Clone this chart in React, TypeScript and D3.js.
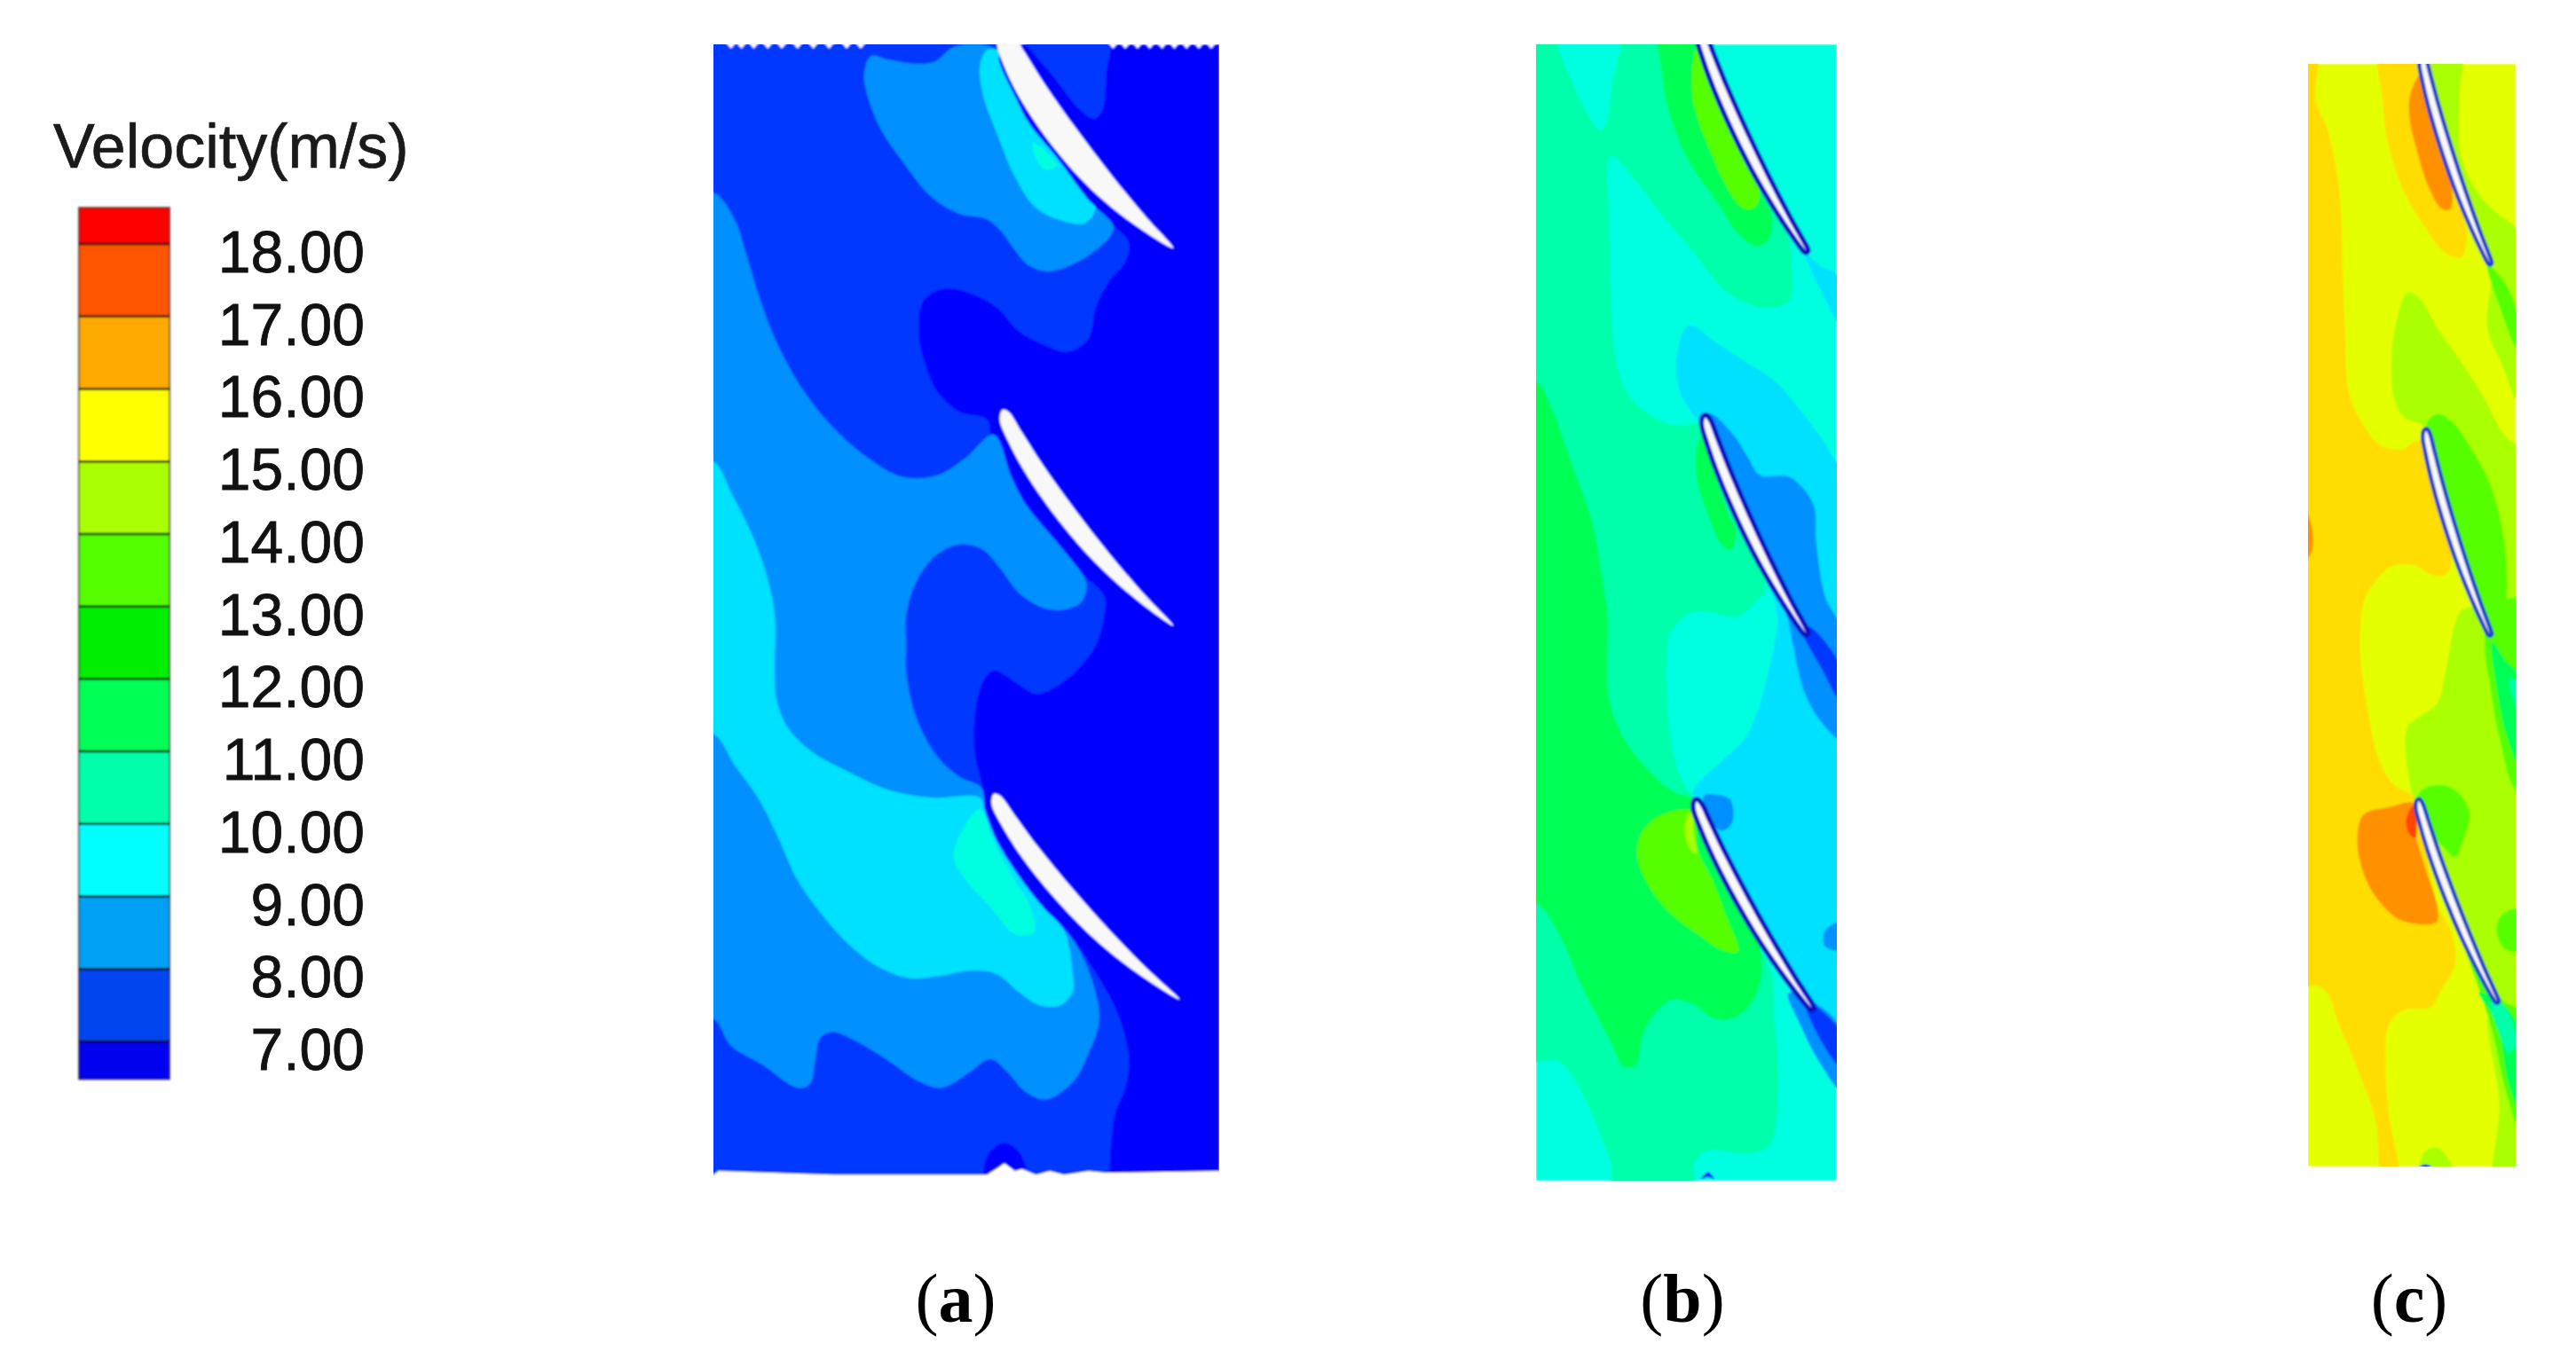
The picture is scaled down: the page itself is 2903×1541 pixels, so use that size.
import React from 'react';
import * as d3 from 'd3';

type Pt = [number, number];

const legendTitle = 'Velocity(m/s)';
const legendValues = [18, 17, 16, 15, 14, 13, 12, 11, 10, 9, 8, 7];
const legendColors = ['#0000ee', '#0044f0', '#00a0f5', '#00ffff', '#00ffaa', '#00ff55', '#00ee00', '#55ff00', '#aaff00', '#ffff00', '#ffaa00', '#ff5500', '#ff0000'];
const bandColors = ['#0000ff', '#0038ff', '#0090ff', '#00e0ff', '#00ffe0', '#00ffaa', '#00ff55', '#55ff00', '#aaff00', '#e4ff00', '#ffdd00', '#ff9000', '#ff4400'];

// blade section: chord fraction, then offset from the chord on each surface
const profileT = [0, 0.02, 0.1, 0.25, 0.45, 0.65, 0.85, 1];
const profileUpper = [0, -0.012, -0.005, 0.01, 0.019, 0.02, 0.012, 0];
const profileLower = [0, 0.03, 0.055, 0.08, 0.09, 0.08, 0.045, 0];

// panel (a): outlines
const aMid: Pt[] = [[-50, -50], [870, -50], [875, 90], [920, 180], [960, 250], [1040, 340], [1130, 450], [1200, 515], [1245, 560], [1235, 610], [1190, 660], [1150, 730], [1130, 810], [1070, 845], [1000, 825], [930, 790], [870, 730], [800, 695], [720, 680], [660, 710], [645, 790], [665, 880], [700, 950], [760, 1000], [840, 1020], [850, 1060], [860, 1095], [910, 1170], [950, 1240], [1040, 1340], [1110, 1420], [1175, 1480], [1175, 1529], [1150, 1609], [1100, 1669], [1040, 1714], [980, 1734], [930, 1709], [860, 1674], [825, 1709], [805, 1799], [805, 1889], [825, 1969], [830, 2039], [870, 2119], [940, 2219], [1000, 2289], [1090, 2379], [1150, 2459], [1210, 2559], [1245, 2679], [1235, 2759], [1205, 2829], [1190, 2979], [1190, 3100], [-50, 3100]];
const aMidTop: Pt[] = [[945, 30], [1185, 30], [1180, 120], [1170, 215], [1145, 238], [1100, 210], [1040, 140], [975, 70]];
const aLightUpper: Pt[] = [[510, 75], [560, 85], [640, 95], [690, 90], [750, 50], [850, 50], [875, 70], [875, 90], [920, 180], [960, 250], [1040, 340], [1130, 450], [1200, 515], [1195, 540], [1120, 600], [1020, 635], [960, 620], [920, 580], [880, 530], [840, 500], [760, 485], [680, 440], [600, 350], [540, 270], [500, 180], [490, 120]];
const aLightMain: Pt[] = [[60, 430], [120, 500], [150, 580], [190, 700], [240, 820], [320, 950], [400, 1040], [500, 1120], [600, 1170], [700, 1165], [780, 1120], [860, 1060], [910, 1170], [950, 1240], [1040, 1340], [1110, 1420], [1125, 1450], [1110, 1495], [1060, 1515], [1000, 1510], [930, 1470], [880, 1410], [830, 1360], [770, 1345], [700, 1370], [640, 1440], [610, 1530], [610, 1609], [610, 1679], [640, 1799], [700, 1899], [760, 1949], [825, 1979], [835, 2039], [870, 2119], [940, 2219], [1000, 2289], [1090, 2379], [1150, 2509], [1160, 2589], [1130, 2669], [1090, 2739], [1010, 2789], [950, 2769], [900, 2719], [850, 2684], [790, 2719], [710, 2759], [640, 2739], [560, 2689], [470, 2639], [400, 2614], [365, 2629], [350, 2689], [335, 2749], [300, 2759], [200, 2699], [110, 2649], [60, 2579], [-50, 2579], [-50, 430]];
const aCyanUpper: Pt[] = [[840, 60], [820, 100], [830, 180], [870, 280], [920, 390], [980, 470], [1060, 505], [1120, 510], [1150, 470], [1130, 450], [1040, 340], [960, 250], [920, 180], [875, 90], [870, 60]];
const aCyanMain: Pt[] = [[60, 1130], [110, 1210], [170, 1320], [210, 1420], [235, 1529], [235, 1679], [240, 1749], [270, 1819], [340, 1884], [450, 1939], [560, 1984], [680, 2004], [820, 2004], [835, 2039], [870, 2119], [940, 2219], [1000, 2289], [1060, 2349], [1085, 2459], [1085, 2509], [1050, 2544], [990, 2544], [930, 2509], [870, 2464], [800, 2454], [700, 2469], [620, 2474], [530, 2444], [450, 2389], [370, 2309], [300, 2219], [240, 2099], [190, 2009], [120, 1919], [60, 1839], [-50, 1839], [-50, 1130]];
const aAquaUpper: Pt[] = [[970, 300], [990, 310], [1040, 360], [1010, 372], [985, 350]];
const aAquaMain: Pt[] = [[820, 2034], [770, 2089], [745, 2159], [780, 2219], [850, 2289], [920, 2359], [975, 2354], [960, 2279], [920, 2219], [860, 2119]];
const aDeepBottom: Pt[] = [[835, 3000], [845, 2930], [890, 2902], [935, 2930], [950, 3000]];
const aBlades: [Pt, Pt][] = [[[885, 10], [1372, 575]], [[885, 995], [1372, 1557]], [[860, 1994], [1390, 2529]]];
const aBladeThick = [1.5, 1, 1];
const aBladeCamber = [1.15, 1, 1];

// panel (b)
const bAquaTop: Pt[] = [[150, -50], [380, -50], [350, 150], [315, 270], [230, 170]];
const bGreenUpper: Pt[] = [[-50, -50], [660, -50], [700, 140], [770, 290], [860, 440], [940, 530], [960, 640], [950, 710], [860, 730], [740, 690], [620, 580], [520, 490], [430, 400], [345, 335], [340, 500], [345, 700], [360, 850], [400, 950], [480, 1010], [560, 1035], [650, 1035], [700, 1160], [780, 1300], [870, 1460], [840, 1490], [780, 1530], [620, 1520], [560, 1560], [540, 1589], [535, 1749], [560, 1899], [600, 1979], [620, 1999], [400, 2100], [-50, 2100]];
const bGreenLower: Pt[] = [[-50, 2250], [850, 2400], [900, 2599], [910, 2799], [880, 2909], [800, 2929], [680, 2919], [630, 2949], [625, 3100], [370, 3100], [345, 2949], [320, 2899], [260, 2789], [170, 2689], [100, 2689], [-50, 2700]];
const bCyan: Pt[] = [[610, 775], [700, 820], [800, 870], [900, 920], [980, 990], [1060, 1070], [1120, 1135], [1200, 1135], [1200, 2750], [1025, 2549], [620, 2004], [720, 1909], [800, 1849], [850, 1759], [900, 1599], [910, 1539], [880, 1450], [780, 1300], [700, 1160], [650, 1040], [580, 950], [570, 850]];
const bCyanWedge: Pt[] = [[1000, 585], [1050, 620], [1120, 650], [1120, 770], [1060, 690], [1010, 610]];
const bLight: Pt[] = [[680, 1005], [760, 1060], [810, 1120], [850, 1165], [950, 1170], [1030, 1240], [1040, 1340], [1070, 1480], [1120, 1560], [1120, 1849], [1060, 1809], [1000, 1729], [960, 1599], [940, 1529], [850, 1400], [780, 1290], [700, 1140], [660, 1040]];
const bLightBlob: Pt[] = [[660, 1999], [690, 1994], [750, 2009], [755, 2069], [720, 2089], [680, 2059]];
const bLightDot: Pt[] = [[1120, 2329], [1070, 2349], [1070, 2389], [1120, 2399]];
const bLightWake: Pt[] = [[945, 2510], [1020, 2530], [1120, 2600], [1120, 2760], [1050, 2690], [990, 2600]];
const bMidWakeUpper: Pt[] = [[990, 1560], [1020, 1560], [1120, 1660], [1120, 1749], [1060, 1670]];
const bMidWakeLower: Pt[] = [[1000, 2530], [1030, 2540], [1120, 2610], [1120, 2700], [1060, 2640]];
const bWarm: Pt[] = [[-50, 920], [92, 920], [150, 1000], [210, 1130], [280, 1280], [320, 1450], [335, 1529], [340, 1749], [390, 1849], [470, 1929], [560, 1989], [620, 2004], [640, 2049], [680, 2139], [730, 2219], [790, 2309], [850, 2389], [845, 2499], [780, 2569], [700, 2579], [620, 2539], [550, 2529], [480, 2579], [450, 2629], [430, 2699], [390, 2704], [340, 2629], [250, 2499], [170, 2359], [92, 2279], [-50, 2279]];
const bWarmUpper: Pt[] = [[510, -50], [660, -50], [700, 140], [770, 290], [860, 440], [890, 490], [880, 550], [840, 570], [780, 540], [700, 450], [610, 350], [545, 230], [520, 130]];
const bWarmBlade: Pt[] = [[640, 1080], [635, 1170], [670, 1260], [720, 1345], [750, 1360], [770, 1310], [740, 1260], [700, 1170], [660, 1060]];
const bHotUpper: Pt[] = [[640, 45], [620, 110], [625, 200], [680, 320], [740, 420], [790, 470], [830, 470], [850, 430], [770, 290], [700, 140], [660, 45]];
const bHot: Pt[] = [[590, 2034], [500, 2054], [445, 2099], [435, 2159], [470, 2229], [540, 2299], [640, 2359], [720, 2399], [775, 2404], [730, 2299], [690, 2219], [640, 2139], [625, 2039]];
const bHotter: Pt[] = [[610, 2044], [595, 2089], [615, 2139], [635, 2149], [625, 2089], [625, 2044]];
const bDeepBottom: Pt[] = [[650, 2994], [675, 2977], [695, 2994], [675, 2989]];
const bBlades: [Pt, Pt][] = [[[650, 15], [1005, 580]], [[665, 1015], [1005, 1574]], [[635, 2014], [1025, 2549]]];

// panel (c)
const cAmberMain: Pt[] = [[-50, -50], [150, -50], [150, 150], [190, 230], [230, 400], [240, 600], [250, 800], [260, 930], [310, 1020], [370, 1075], [440, 1085], [500, 1060], [530, 1100], [570, 1240], [610, 1340], [590, 1420], [540, 1420], [480, 1395], [400, 1400], [340, 1450], [310, 1497], [300, 1631], [330, 1806], [360, 1909], [410, 1981], [480, 2017], [510, 2115], [560, 2300], [610, 2383], [620, 2465], [570, 2537], [540, 2578], [440, 2589], [395, 2630], [385, 2733], [400, 2887], [430, 3006], [430, 3100], [385, 3100], [350, 2877], [300, 2764], [230, 2630], [170, 2527], [-50, 2527]];
const cAmberTop: Pt[] = [[365, -50], [375, 150], [395, 270], [440, 380], [510, 480], [590, 560], [640, 570], [660, 520], [630, 400], [560, 200], [510, -50]];
const cOrangeTop: Pt[] = [[510, 75], [470, 130], [465, 190], [490, 280], [530, 380], [575, 440], [605, 440], [600, 330], [550, 200]];
const cOrangeMain: Pt[] = [[480, 2033], [400, 2043], [310, 2064], [290, 2136], [320, 2239], [380, 2311], [440, 2347], [555, 2352], [560, 2311], [520, 2208], [490, 2125]];
const cRed: Pt[] = [[480, 2038], [455, 2074], [465, 2115], [485, 2125], [490, 2084]];
const cOrangeEdge: Pt[] = [[110, 1240], [135, 1290], [135, 1360], [110, 1380]];
const cLimeTop: Pt[] = [[550, -50], [640, -50], [635, 150], [640, 300], [700, 400], [760, 450], [830, 500], [830, 950], [780, 860], [730, 760], [740, 590], [660, 450], [600, 330]];
const cLimeMain: Pt[] = [[460, 665], [500, 680], [560, 760], [640, 850], [720, 950], [790, 1050], [900, 1120], [900, 3100], [755, 3100], [770, 2836], [730, 2630], [735, 2510], [640, 2340], [530, 2120], [480, 2020], [455, 1909], [460, 1827], [510, 1796], [560, 1765], [590, 1672], [640, 1518], [700, 1500], [640, 1340], [560, 1180], [520, 1040], [510, 1020], [450, 1000], [415, 950], [405, 850], [420, 750]];
const cLimeBottom: Pt[] = [[500, 3006], [520, 2965], [560, 2955], [610, 3006], [610, 3100], [500, 3100]];
const cGreenBlade: Pt[] = [[525, 1015], [560, 990], [610, 1010], [680, 1090], [740, 1180], [775, 1280], [795, 1400], [790, 1500], [750, 1568], [735, 1560], [640, 1340], [560, 1180]];
const cGreenWake1: Pt[] = [[730, 590], [790, 640], [830, 720], [830, 815], [770, 700]];
const cGreenWake2: Pt[] = [[750, 1500], [720, 1600], [740, 1723], [770, 1857], [830, 2000], [900, 2000], [900, 1497]];
const cGreenLe: Pt[] = [[490, 2022], [520, 1991], [590, 1986], [640, 2012], [670, 2063], [650, 2125], [620, 2177], [580, 2150], [530, 2100]];
const cGreenDot: Pt[] = [[835, 2316], [780, 2331], [760, 2373], [790, 2424], [835, 2429]];
const cGreenWake3: Pt[] = [[640, 2383], [690, 2506], [745, 2640], [790, 2800], [835, 2900], [835, 2590], [780, 2560]];
const cEmerald2: Pt[] = [[745, 1600], [790, 1650], [835, 1690], [835, 1930], [790, 1840], [760, 1720]];
const cEmerald3: Pt[] = [[700, 2540], [760, 2620], [800, 2780], [835, 2850], [835, 2640], [780, 2570]];
const cSea2: Pt[] = [[805, 1700], [835, 1710], [835, 1780], [815, 1750]];
const cSea3: Pt[] = [[740, 2563], [790, 2580], [825, 2680], [800, 2700], [770, 2650]];
const cNavyBottom: Pt[] = [[495, 3010], [520, 3000], [545, 3010], [520, 3016]];
const cBlades: [Pt, Pt][] = [[[510, 35], [738, 585]], [[522, 1035], [738, 1579]], [[497, 2027], [762, 2563]]];

// white saw teeth on the top edge of panel (a), x positions
const aTeeth = [110, 140, 175, 215, 255, 300, 345, 390, 440, 480, 1200, 1235, 1270, 1305, 1340, 1375, 1410, 1445, 1480];
// white bumps on the bottom edge of panel (a)
const aBottomEdge: Pt[] = [[-50, 3100], [60, 2985], [75, 2975], [400, 2985], [840, 2985], [875, 2965], [890, 2955], [920, 2975], [940, 2970], [980, 2985], [1020, 2975], [1060, 2985], [1130, 2975], [1180, 2980], [1500, 2975], [1600, 3100]];

const panels = [
  {
    caption: 'a', captionX: 1077,
    xDomain: [60, 1503], xRange: [804, 1374], yDomain: [45, 2989], yRange: [50, 1326],
    background: 0, blades: aBlades, thick: aBladeThick, camber: aBladeCamber, outline: 0, outlineColor: 'none',
    layers: [[1, aMid], [1, aMidTop], [2, aLightUpper], [2, aLightMain], [3, aCyanUpper], [3, aCyanMain], [4, aAquaUpper], [4, aAquaMain], [0, aDeepBottom]] as [number, Pt[]][],
  },
  {
    caption: 'b', captionX: 1896,
    xDomain: [92, 1110], xRange: [1731, 2070], yDomain: [45, 2999], yRange: [50, 1331],
    background: 4, blades: bBlades, thick: [0.5, 0.5, 0.5], camber: [0.6, 0.6, 0.6], outline: 11, outlineColor: '#0c10c0',
    layers: [[5, bGreenUpper], [5, bGreenLower], [4, bAquaTop], [3, bCyan], [3, bCyanWedge], [2, bLight], [2, bLightBlob], [2, bLightDot], [2, bLightWake], [1, bMidWakeUpper], [1, bMidWakeLower], [6, bWarm], [6, bWarmUpper], [6, bWarmBlade], [7, bHotUpper], [7, bHot], [8, bHotter], [0, bDeepBottom]] as [number, Pt[]][],
  },
  {
    caption: 'c', captionX: 2715,
    xDomain: [123, 825], xRange: [2601, 2835], yDomain: [52, 3006], yRange: [72, 1315],
    background: 9, blades: cBlades, thick: [0.42, 0.42, 0.42], camber: [0.5, 0.5, 0.5], outline: 9, outlineColor: '#1a3cc8',
    layers: [[10, cAmberMain], [10, cAmberTop], [8, cLimeTop], [8, cLimeMain], [8, cLimeBottom], [11, cOrangeTop], [11, cOrangeMain], [12, cRed], [11, cOrangeEdge], [7, cGreenBlade], [7, cGreenWake1], [7, cGreenWake2], [7, cGreenLe], [7, cGreenDot], [7, cGreenWake3], [6, cEmerald2], [6, cEmerald3], [5, cSea2], [5, cSea3], [0, cNavyBottom]] as [number, Pt[]][],
  },
];

const smooth = d3.line().curve(d3.curveCatmullRomClosed.alpha(0.5));
const straight = d3.line();

function bladeOutline(le: Pt, te: Pt, thick: number, camber: number): string {
  const dx = te[0] - le[0];
  const dy = te[1] - le[1];
  const at = (t: number, n: number): Pt => [le[0] + t * dx - n * dy, le[1] + t * dy + n * dx];
  // the mean line keeps the camber, the thickness is scaled around it
  const surface = (i: number, side: number[]) => {
    const mean = ((profileUpper[i] + profileLower[i]) / 2) * camber;
    const half = ((profileLower[i] - profileUpper[i]) / 2) * thick;
    return side === profileUpper ? mean - half : mean + half;
  };
  const top = profileT.map((t, i) => at(t, surface(i, profileUpper)));
  const bottom = profileT.map((t, i) => at(t, surface(i, profileLower))).reverse().slice(1, -1);
  return smooth([...top, ...bottom]) as string;
}

function Panel({ panel, index }: { panel: (typeof panels)[number]; index: number }) {
  const x = d3.scaleLinear().domain(panel.xDomain).range(panel.xRange);
  const y = d3.scaleLinear().domain(panel.yDomain).range(panel.yRange);
  const project = (pts: Pt[]) => pts.map(([a, b]) => [x(a), y(b)] as Pt);
  const [x0, x1] = panel.xRange;
  const [y0, y1] = panel.yRange;
  const blades = panel.blades.map(([le, te], i) => {
    const [p, q] = project([le, te]);
    return bladeOutline(p, q, panel.thick[i], panel.camber[i]);
  });
  return (
    <g>
      <clipPath id={`panel-${index}`}>
        <rect x={x0} y={y0} width={x1 - x0} height={y1 - y0} />
      </clipPath>
      <g clipPath={`url(#panel-${index})`} filter="url(#soft)">
        <rect x={x0} y={y0} width={x1 - x0} height={y1 - y0} fill={bandColors[panel.background]} />
        {panel.layers.map(([level, pts], i) => (
          <path key={i} d={smooth(project(pts)) as string} fill={bandColors[level]} />
        ))}
        {blades.map((d, i) => (
          <path key={i} d={d} fill="#f8f8f8" stroke={panel.outlineColor} strokeWidth={panel.outline} paintOrder="stroke" strokeLinejoin="round" />
        ))}
        {index === 0 && aTeeth.map(t => (
          <path key={t} d={straight(project([[t - 15, 40], [t + 15, 40], [t, 56]])) as string} fill="#ffffff" />
        ))}
        {index === 0 && <path d={straight(project(aBottomEdge)) as string} fill="#ffffff" />}
      </g>
      <text x={panel.captionX} y={1490} textAnchor="middle" fontFamily="'Liberation Serif', serif" fontSize={78} fill="#000">
        (<tspan fontWeight="bold">{panel.caption}</tspan>)
      </text>
    </g>
  );
}

function Legend() {
  const y = d3.scaleLinear().domain([7, 18]).range([1174, 275]);
  const edges = [6.48, ...[...legendValues].reverse(), 18.5];
  return (
    <g>
      <text x={60} y={189} fontFamily="'Liberation Sans', Arial, sans-serif" fontSize={70} fill="#1a1a1a" stroke="#1a1a1a" strokeWidth={0.7}>{legendTitle}</text>
      <g filter="url(#soft)">
        {legendColors.map((c, i) => (
          <rect key={c} x={89} y={y(edges[i + 1])} width={102} height={y(edges[i]) - y(edges[i + 1])} fill={c} />
        ))}
        <rect x={89} y={y(18.5)} width={102} height={y(6.48) - y(18.5)} fill="none" stroke="#222" strokeWidth={2} strokeOpacity={0.7} />
        {legendValues.map(v => (
          <line key={v} x1={89} x2={191} y1={y(v)} y2={y(v)} stroke="#111" strokeWidth={2.5} />
        ))}
      </g>
      {legendValues.map(v => (
        <text key={v} x={411} y={y(v) + 32} textAnchor="end" fontFamily="'Liberation Sans', Arial, sans-serif" fontSize={66} fill="#111" stroke="#111" strokeWidth={0.8}>
          {d3.format('.2f')(v)}
        </text>
      ))}
    </g>
  );
}

export default function App() {
  return (
    <svg width={2903} height={1541} style={{ position: 'absolute', left: 0, top: 0, background: '#fff' }}>
      <defs>
        <filter id="soft" x="-5%" y="-5%" width="110%" height="110%">
          <feGaussianBlur stdDeviation="1.1" />
        </filter>
      </defs>
      <Legend />
      {panels.map((p, i) => <Panel key={p.caption} panel={p} index={i} />)}
    </svg>
  );
}
